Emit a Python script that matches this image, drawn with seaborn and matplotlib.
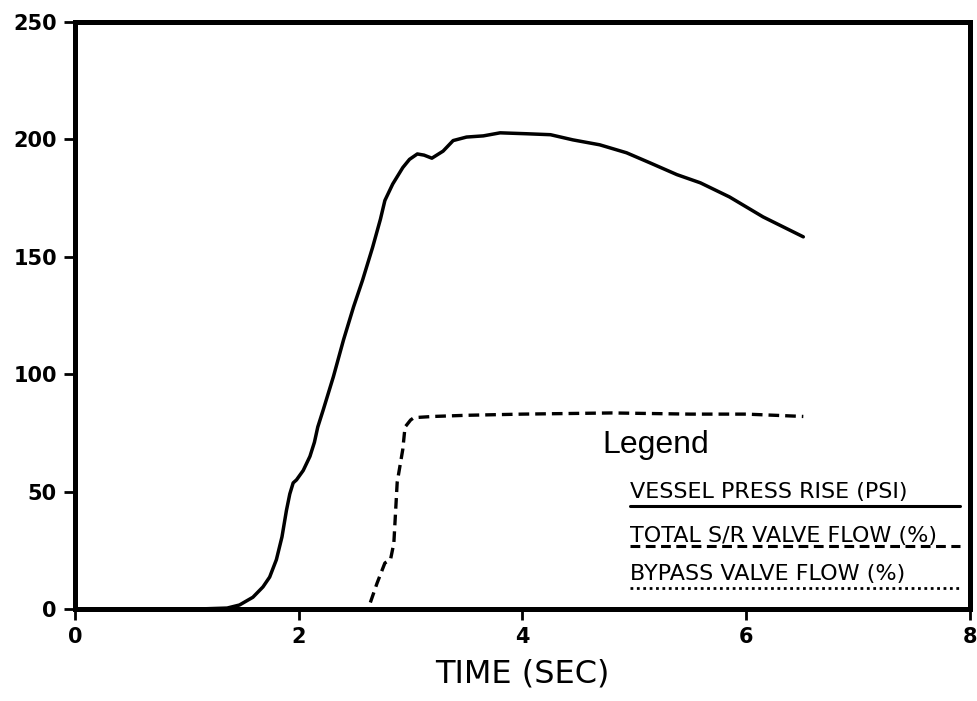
import matplotlib
matplotlib.use("Agg")
import matplotlib.pyplot as plt
import pandas as pd
import seaborn as sns
from matplotlib.lines import Line2D

# Vessel pressure rise (psi) against time (s)
press_time = [0.0, 1.10, 1.36, 1.47, 1.59, 1.68, 1.74, 1.80, 1.85, 1.89, 1.92,
              1.95, 1.98, 2.04, 2.10, 2.14, 2.17, 2.22, 2.31, 2.40, 2.49, 2.57,
              2.66, 2.73, 2.77, 2.84, 2.93, 2.99, 3.06, 3.12, 3.19, 3.29, 3.38,
              3.50, 3.65, 3.80, 4.04, 4.25, 4.45, 4.69, 4.93, 5.14, 5.38, 5.59,
              5.85, 6.15, 6.51]
press_psi = [0.0, 0.0, 0.4, 1.7, 5.0, 9.4, 13.6, 21.0, 30.7, 42.0, 49.0,
             53.7, 55.0, 59.0, 65.0, 71.0, 77.5, 85.0, 99.0, 114.6, 128.7, 140.0,
             154.0, 166.0, 174.0, 181.0, 188.0, 191.5, 193.8, 193.3, 192.0, 195.0, 199.5,
             201.0, 201.5, 202.8, 202.4, 202.0, 199.8, 197.7, 194.3, 190.0, 185.0, 181.5,
             175.5, 167.0, 158.5]

# Total safety/relief valve flow (%)
srv_time = [0.0, 2.62, 2.70, 2.77, 2.82, 2.85, 2.88, 2.93, 2.95, 3.00, 3.03,
            3.20, 3.50, 4.00, 4.80, 5.50, 6.00, 6.51]
srv_flow = [0.0, 0.0, 11.0, 19.6, 21.0, 28.0, 54.0, 68.0, 77.5, 80.5, 81.5,
            82.0, 82.5, 83.0, 83.5, 83.0, 83.0, 82.0]

# Bypass valve flow (%) stays closed for the whole transient
bypass_time = [0.0, 6.51]
bypass_flow = [0.0, 0.0]

x_ticks = [0, 2, 4, 6, 8]
y_ticks = [0, 50, 100, 150, 200, 250]
x_label = "TIME (SEC)"
legend_title = "Legend"
series_labels = ["VESSEL PRESS RISE (PSI)", "TOTAL S/R VALVE FLOW (%)", "BYPASS VALVE FLOW (%)"]

solid = "-"
dashed = (0, (3.2, 1.8))
dotted = (0, (1.0, 1.3))

sns.set_style("ticks")
plt.rcParams["font.family"] = ["DejaVu Sans"]
plt.rcParams["text.color"] = "black"
plt.rcParams["axes.labelcolor"] = "black"

fig = plt.figure(figsize=(9.78, 7.01), dpi=100)
ax = fig.add_axes([75 / 978, 1 - 609 / 701, (970 - 75) / 978, (609 - 22) / 701])

press_df = pd.DataFrame({"t": press_time, "v": press_psi})
srv_df = pd.DataFrame({"t": srv_time, "v": srv_flow})
bypass_df = pd.DataFrame({"t": bypass_time, "v": bypass_flow})

sns.lineplot(data=bypass_df, x="t", y="v", ax=ax, color="black", linewidth=2.2,
             linestyle=dotted, sort=False, zorder=1)
sns.lineplot(data=srv_df, x="t", y="v", ax=ax, color="black", linewidth=2.4,
             linestyle=dashed, sort=False, zorder=2)
sns.lineplot(data=press_df, x="t", y="v", ax=ax, color="black", linewidth=2.5,
             linestyle=solid, sort=False, zorder=3, solid_joinstyle="round",
             solid_capstyle="round")

ax.set_xlim(0, 8)
ax.set_ylim(0, 250)
ax.set_xticks(x_ticks)
ax.set_yticks(y_ticks)
ax.set_xticklabels([str(v) for v in x_ticks], fontsize=15, fontweight="bold")
ax.set_yticklabels([str(v) for v in y_ticks], fontsize=15, fontweight="bold")
ax.set_ylabel("")
ax.set_xlabel(x_label, fontsize=23, color="black", labelpad=8)

for side in ["left", "right", "top", "bottom"]:
    ax.spines[side].set_visible(True)
    ax.spines[side].set_linewidth(3.6)
    ax.spines[side].set_color("black")
    ax.spines[side].set_zorder(5)

ax.tick_params(axis="both", direction="out", length=8, width=2.0, color="black",
               labelcolor="black")
ax.tick_params(axis="y", pad=5)
ax.tick_params(axis="x", pad=5)

# Hand-drawn style legend: caption plus labels underlined with each line style
ax.text(0.589, 0.279, legend_title, transform=ax.transAxes, fontsize=23,
        family=["Liberation Sans", "DejaVu Sans"], va="center", ha="left", color="black")

label_y = [0.189, 0.114, 0.049]
rule_y = [0.175, 0.107, 0.036]
styles = [solid, dashed, dotted]
for text, ty, ry, ls in zip(series_labels, label_y, rule_y, styles):
    ax.text(0.620, ty, text, transform=ax.transAxes, fontsize=16,
            va="baseline", ha="left", color="black")
    ax.add_line(Line2D([0.620, 0.989], [ry, ry], transform=ax.transAxes, color="black",
                       linewidth=2.2 if ls != dotted else 2.0, linestyle=ls,
                       clip_on=False))

fig.savefig("out.png", dpi=100, facecolor="white")
